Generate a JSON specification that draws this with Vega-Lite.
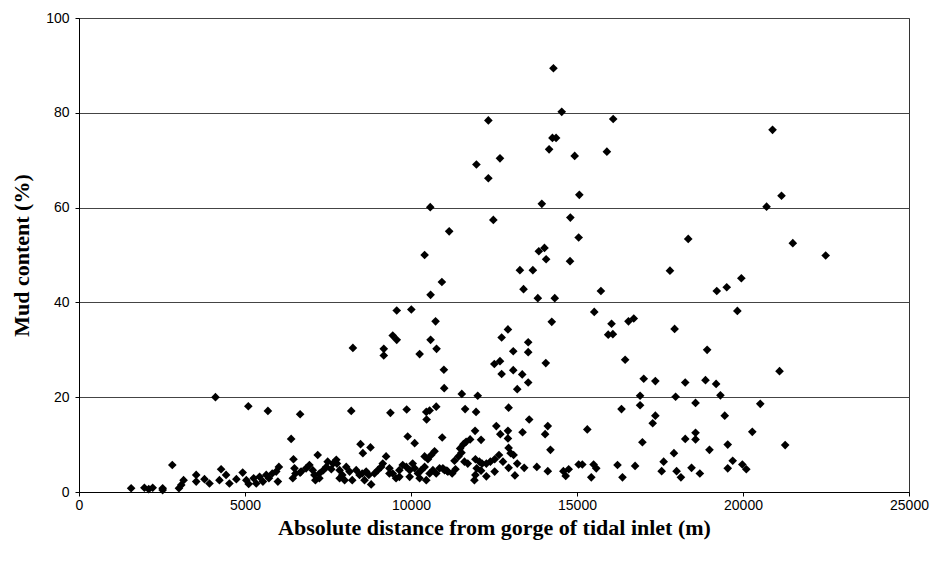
{
  "$schema": "https://vega.github.io/schema/vega-lite/v6.json",
  "autosize": {"type": "none"},
  "padding": {"left": 79, "top": 18, "right": 21, "bottom": 71},
  "width": 830,
  "height": 474,
  "background": "white",
  "config": {
    "font": "Liberation Sans",
    "view": {"stroke": "#333", "strokeWidth": 1}
  },
  "data": {
    "values": [
      {"d":14290,"m":89.4},{"d":14540,"m":80.2},{"d":12330,"m":78.4},{"d":16090,"m":78.7},{"d":20890,"m":76.4},
      {"d":14260,"m":74.7},{"d":14370,"m":74.7},{"d":14160,"m":72.3},{"d":12680,"m":70.4},{"d":14930,"m":70.9},
      {"d":15900,"m":71.8},{"d":11970,"m":69.1},{"d":12330,"m":66.2},{"d":15070,"m":62.7},{"d":21160,"m":62.5},
      {"d":20710,"m":60.2},{"d":10580,"m":60.1},{"d":13940,"m":60.8},{"d":12480,"m":57.4},{"d":14800,"m":57.9},
      {"d":11150,"m":55.0},{"d":15050,"m":53.7},{"d":18350,"m":53.4},{"d":21500,"m":52.5},{"d":22490,"m":49.9},
      {"d":10410,"m":50.0},{"d":13850,"m":50.8},{"d":14020,"m":51.5},{"d":14070,"m":49.1},{"d":14790,"m":48.7},
      {"d":13280,"m":46.8},{"d":13670,"m":46.8},{"d":17800,"m":46.7},{"d":10930,"m":44.3},{"d":13390,"m":42.8},
      {"d":10590,"m":41.6},{"d":13820,"m":40.9},{"d":14330,"m":40.9},{"d":15720,"m":42.4},{"d":19210,"m":42.4},
      {"d":19510,"m":43.2},{"d":19950,"m":45.1},{"d":9570,"m":38.3},{"d":10010,"m":38.5},{"d":10740,"m":36.0},
      {"d":15520,"m":38.0},{"d":19830,"m":38.2},{"d":14240,"m":35.9},{"d":16040,"m":35.5},{"d":16080,"m":33.3},
      {"d":15940,"m":33.2},{"d":16550,"m":36.0},{"d":16710,"m":36.6},{"d":17940,"m":34.4},{"d":9450,"m":33.0},
      {"d":9570,"m":32.1},{"d":8250,"m":30.4},{"d":9180,"m":30.2},{"d":9180,"m":28.8},{"d":10590,"m":32.1},
      {"d":10770,"m":30.2},{"d":10260,"m":29.1},{"d":12920,"m":34.3},{"d":12730,"m":32.6},{"d":13530,"m":31.6},
      {"d":13080,"m":29.7},{"d":13530,"m":29.5},{"d":12510,"m":27.0},{"d":12680,"m":27.6},{"d":12730,"m":24.9},
      {"d":13080,"m":25.7},{"d":13350,"m":24.8},{"d":13530,"m":23.1},{"d":14060,"m":27.2},{"d":10990,"m":25.8},
      {"d":11000,"m":21.9},{"d":13200,"m":21.7},{"d":16450,"m":27.9},{"d":18920,"m":30.0},{"d":17010,"m":23.9},
      {"d":17360,"m":23.4},{"d":18260,"m":23.1},{"d":18870,"m":23.6},{"d":19190,"m":22.8},{"d":21100,"m":25.5},
      {"d":16900,"m":20.3},{"d":17970,"m":20.1},{"d":19320,"m":20.4},{"d":11530,"m":20.7},{"d":12010,"m":20.3},
      {"d":4110,"m":20.0},{"d":5100,"m":18.1},{"d":5690,"m":17.1},{"d":6660,"m":16.4},{"d":8200,"m":17.1},
      {"d":9380,"m":16.7},{"d":9870,"m":17.4},{"d":10460,"m":16.9},{"d":10560,"m":17.2},{"d":10760,"m":18.0},
      {"d":10470,"m":15.3},{"d":11630,"m":17.5},{"d":11960,"m":16.9},{"d":12940,"m":17.8},{"d":16340,"m":17.5},
      {"d":16900,"m":18.3},{"d":18570,"m":18.8},{"d":20520,"m":18.6},{"d":17360,"m":16.1},{"d":17280,"m":14.5},
      {"d":19450,"m":16.1},{"d":20280,"m":12.7},{"d":18570,"m":12.5},{"d":18570,"m":11.1},{"d":18260,"m":11.2},
      {"d":16970,"m":10.5},{"d":19540,"m":10.0},{"d":21270,"m":9.9},{"d":17920,"m":8.2},{"d":18990,"m":8.9},
      {"d":17610,"m":6.4},{"d":19690,"m":6.6},{"d":19540,"m":5.0},{"d":19980,"m":5.8},{"d":20100,"m":4.8},
      {"d":16220,"m":5.7},{"d":16750,"m":5.5},{"d":17550,"m":4.4},{"d":18000,"m":4.4},{"d":18130,"m":3.1},
      {"d":18450,"m":5.1},{"d":18700,"m":3.9},{"d":16370,"m":3.1},{"d":15310,"m":13.2},{"d":15500,"m":5.8},
      {"d":15580,"m":5.0},{"d":15430,"m":3.1},{"d":10940,"m":11.5},{"d":12570,"m":13.9},{"d":12690,"m":12.2},
      {"d":11930,"m":12.9},{"d":12110,"m":11.0},{"d":12920,"m":12.9},{"d":12920,"m":11.3},{"d":13560,"m":15.3},
      {"d":13360,"m":12.6},{"d":14120,"m":13.9},{"d":14040,"m":12.2},{"d":14200,"m":8.9},{"d":12940,"m":9.3},
      {"d":13000,"m":8.2},{"d":13090,"m":7.8},{"d":13200,"m":6.0},{"d":13410,"m":5.1},{"d":13790,"m":5.3},
      {"d":14120,"m":4.4},{"d":14590,"m":4.4},{"d":14660,"m":3.4},{"d":14750,"m":4.8},{"d":15050,"m":5.8},
      {"d":15160,"m":5.8},{"d":12940,"m":5.1},{"d":13130,"m":3.5},{"d":12520,"m":4.3},{"d":12270,"m":3.3},
      {"d":10960,"m":5.0},{"d":11080,"m":4.5},{"d":11240,"m":3.9},{"d":11340,"m":4.8},{"d":11310,"m":6.6},
      {"d":11430,"m":7.5},{"d":11520,"m":8.3},{"d":11480,"m":9.2},{"d":11580,"m":10.1},{"d":11660,"m":10.6},
      {"d":11780,"m":11.1},{"d":11610,"m":6.4},{"d":11710,"m":6.0},{"d":11940,"m":6.9},{"d":12060,"m":6.4},
      {"d":11980,"m":5.0},{"d":11940,"m":3.6},{"d":11910,"m":2.5},{"d":12140,"m":6.0},{"d":12270,"m":6.0},
      {"d":12390,"m":6.4},{"d":12520,"m":6.9},{"d":12650,"m":7.8},{"d":12110,"m":4.5},{"d":12770,"m":6.4},
      {"d":9900,"m":11.7},{"d":10110,"m":10.3},{"d":8480,"m":10.1},{"d":8780,"m":9.4},{"d":8550,"m":8.2},
      {"d":7190,"m":7.8},{"d":7490,"m":6.4},{"d":7750,"m":6.8},{"d":9250,"m":7.5},{"d":10710,"m":8.6},
      {"d":10610,"m":7.8},{"d":10410,"m":7.5},{"d":10510,"m":6.9},
      {"d":6690,"m":4.3},{"d":6840,"m":5.0},{"d":6940,"m":5.7},{"d":7040,"m":4.6},{"d":7090,"m":3.6},
      {"d":7120,"m":2.5},{"d":7240,"m":3.9},{"d":7360,"m":4.6},{"d":7450,"m":5.3},{"d":7600,"m":4.8},
      {"d":7650,"m":6.0},{"d":7770,"m":6.0},{"d":7850,"m":4.6},{"d":7930,"m":3.6},{"d":8000,"m":2.5},
      {"d":8050,"m":5.3},{"d":8150,"m":4.3},{"d":8230,"m":2.5},{"d":8350,"m":4.6},{"d":8450,"m":3.6},
      {"d":8530,"m":3.9},{"d":8650,"m":4.3},{"d":8730,"m":3.6},{"d":8800,"m":1.6},{"d":8900,"m":3.9},
      {"d":9000,"m":4.6},{"d":9100,"m":5.3},{"d":9150,"m":6.0},{"d":9350,"m":3.9},{"d":9450,"m":3.9},
      {"d":9550,"m":2.9},{"d":9650,"m":4.6},{"d":9750,"m":5.7},{"d":9860,"m":5.3},{"d":9960,"m":4.6},
      {"d":10050,"m":6.0},{"d":10110,"m":5.0},{"d":10210,"m":3.9},{"d":10310,"m":4.6},{"d":10410,"m":5.3},
      {"d":10460,"m":2.5},{"d":10560,"m":3.9},{"d":10660,"m":4.6},{"d":10760,"m":3.9},{"d":10860,"m":5.0},
      {"d":11010,"m":4.6},{"d":11110,"m":4.3},{"d":8600,"m":2.5},{"d":7850,"m":2.9},{"d":7240,"m":2.9},
      {"d":9350,"m":5.0},{"d":9650,"m":3.2},{"d":9960,"m":3.2},{"d":10260,"m":2.9},
      {"d":1570,"m":0.8},{"d":1970,"m":0.9},{"d":2100,"m":0.6},{"d":2220,"m":0.9},{"d":2520,"m":0.8},
      {"d":2520,"m":0.4},{"d":2810,"m":5.7},{"d":3010,"m":0.8},{"d":3080,"m":1.5},{"d":3150,"m":2.5},
      {"d":3530,"m":3.6},{"d":3530,"m":2.2},{"d":3780,"m":2.7},{"d":3930,"m":1.8},{"d":4280,"m":4.8},
      {"d":4230,"m":2.5},{"d":4430,"m":3.6},{"d":4530,"m":1.8},{"d":4740,"m":2.7},{"d":4930,"m":4.1},
      {"d":5040,"m":2.5},{"d":5110,"m":1.7},{"d":5260,"m":2.9},{"d":5340,"m":1.8},{"d":5440,"m":3.2},
      {"d":5540,"m":2.2},{"d":5640,"m":3.6},{"d":5720,"m":2.9},{"d":5820,"m":3.9},{"d":5940,"m":4.3},
      {"d":6020,"m":5.3},{"d":5990,"m":2.2},{"d":6390,"m":11.2},{"d":6460,"m":6.9},{"d":6490,"m":5.0},
      {"d":6660,"m":4.1},{"d":6440,"m":2.9},{"d":6520,"m":3.9}
    ]
  },
  "mark": {"type": "point", "shape": "diamond", "filled": true, "color": "black", "size": 75, "opacity": 1},
  "encoding": {
    "x": {
      "field": "d", "type": "quantitative",
      "scale": {"domain": [0, 25000], "nice": false, "zero": true},
      "axis": {
        "title": "Absolute distance from gorge of tidal inlet (m)",
        "values": [0, 5000, 10000, 15000, 20000, 25000],
        "format": "d",
        "grid": false,
        "domainColor": "#000", "tickColor": "#000", "tickSize": 4,
        "labelFont": "Liberation Sans", "labelFontSize": 14, "labelColor": "#000", "labelPadding": 2,
        "labelFlush": false,
        "titleFont": "Liberation Serif", "titleFontSize": 22, "titleFontWeight": "bold", "titleColor": "#000",
        "titlePadding": 5
      }
    },
    "y": {
      "field": "m", "type": "quantitative",
      "scale": {"domain": [0, 100], "nice": false},
      "axis": {
        "title": "Mud content (%)",
        "values": [0, 20, 40, 60, 80, 100],
        "grid": true, "gridColor": "#444", "gridWidth": 1,
        "domainColor": "#000", "tickColor": "#000", "tickSize": 4,
        "labelFont": "Liberation Sans", "labelFontSize": 14, "labelColor": "#000", "labelPadding": 6,
        "labelFlush": false,
        "titleFont": "Liberation Serif", "titleFontSize": 22, "titleFontWeight": "bold", "titleColor": "#000",
        "titlePadding": 12
      }
    }
  }
}
